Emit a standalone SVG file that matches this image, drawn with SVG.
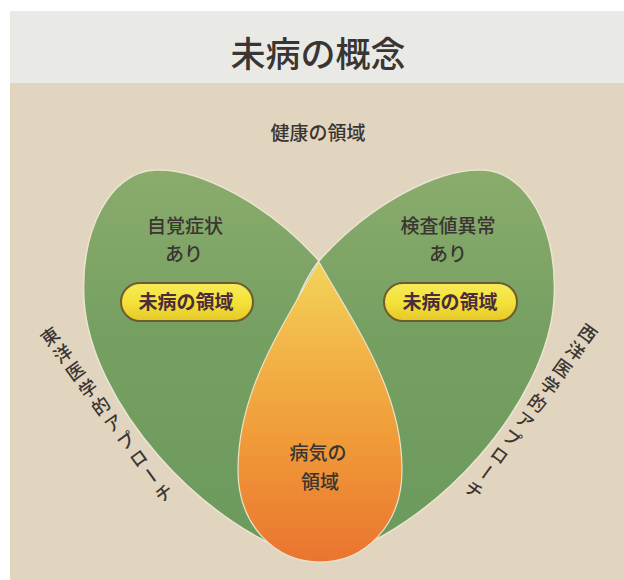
<svg xmlns="http://www.w3.org/2000/svg" width="624" height="580" viewBox="0 0 624 580">
<defs>
<style>
.t{font-family:"Noto Sans CJK JP","Noto Sans CJK SC",sans-serif;fill:#3a3532;text-anchor:middle}
.lab{font-size:19px;font-weight:500}
.pilltxt{font-size:19px;font-weight:700;fill:#4a2c3c}
.pill{fill:url(#pillg);stroke:#6d5c2e;stroke-width:2}
.leaf{fill:url(#leafg);stroke:#ece4d2;stroke-width:1.5}
.vert{font-size:18px;font-weight:500;writing-mode:vertical-rl;text-orientation:upright;letter-spacing:3.5px}
</style>
<linearGradient id="leafg" x1="0" y1="0" x2="0" y2="1">
<stop offset="0" stop-color="#8aac6c"/>
<stop offset="0.4" stop-color="#76a062"/>
<stop offset="1" stop-color="#6a9a5c"/>
</linearGradient>
<linearGradient id="orangeg" x1="0" y1="0" x2="0" y2="1">
<stop offset="0" stop-color="#f2d458"/>
<stop offset="0.3" stop-color="#f2b448"/>
<stop offset="0.6" stop-color="#f09a38"/>
<stop offset="1" stop-color="#ea7430"/>
</linearGradient>
<linearGradient id="pillg" x1="0" y1="0" x2="0" y2="1">
<stop offset="0" stop-color="#f6ea5a"/>
<stop offset="0.5" stop-color="#f4e238"/>
<stop offset="1" stop-color="#e6c828"/>
</linearGradient>
</defs>
<rect x="0" y="0" width="624" height="580" fill="#ffffff"/>
<rect x="10" y="11" width="614" height="72" fill="#e9eae5"/>
<rect x="10" y="83" width="614" height="497" fill="#e2d5c0"/>
<g id="title"><text class="t" x="318" y="67" font-size="35" font-weight="500" fill="#2a2a2a">未病の概念</text></g>
<g id="health"><text class="t lab" x="318" y="140">健康の領域</text></g>
<g id="leaf-left"><path class="leaf" d="M318,562 C200,530 90,400 84,300 C80,230 110,172 155,170 C200,168 270,205 320,262 C370,330 380,480 318,562 Z"/></g>
<g id="leaf-right"><path class="leaf" d="M320,562 C438,530 548,400 554,300 C558,230 528,172 483,170 C438,168 368,205 318,262 C268,330 258,480 320,562 Z"/></g>
<g id="disease"><path d="M319,262 C358,330 402,392 402,470 C402,525 365,562 320,562 C275,562 238,525 238,470 C238,392 280,330 319,262 Z" fill="url(#orangeg)" stroke="#eee2c8" stroke-width="1.2"/>
<text class="t lab" x="318" y="460" fill="#3a2520">病気の</text>
<text class="t lab" x="320" y="489" fill="#3a2520">領域</text></g>
<g id="left-texts"><text class="t lab" x="185" y="233">自覚症状</text><text class="t lab" x="184" y="261">あり</text></g>
<g id="right-texts"><text class="t lab" x="448" y="233">検査値異常</text><text class="t lab" x="448" y="261">あり</text></g>
<g id="pill-left"><rect class="pill" x="121" y="283" width="132" height="38" rx="19"/><text class="t pilltxt" x="186" y="309">未病の領域</text></g>
<g id="pill-right"><rect class="pill" x="384" y="283" width="133" height="38" rx="19"/><text class="t pilltxt" x="450" y="309">未病の領域</text></g>
<g id="east"><text class="t vert" x="108" y="416" transform="rotate(-36 108 416)">東洋医学的アプローチ</text></g>
<g id="west"><text class="t vert" x="530" y="413" transform="rotate(36 530 413)">西洋医学的アプローチ</text></g>
</svg>
